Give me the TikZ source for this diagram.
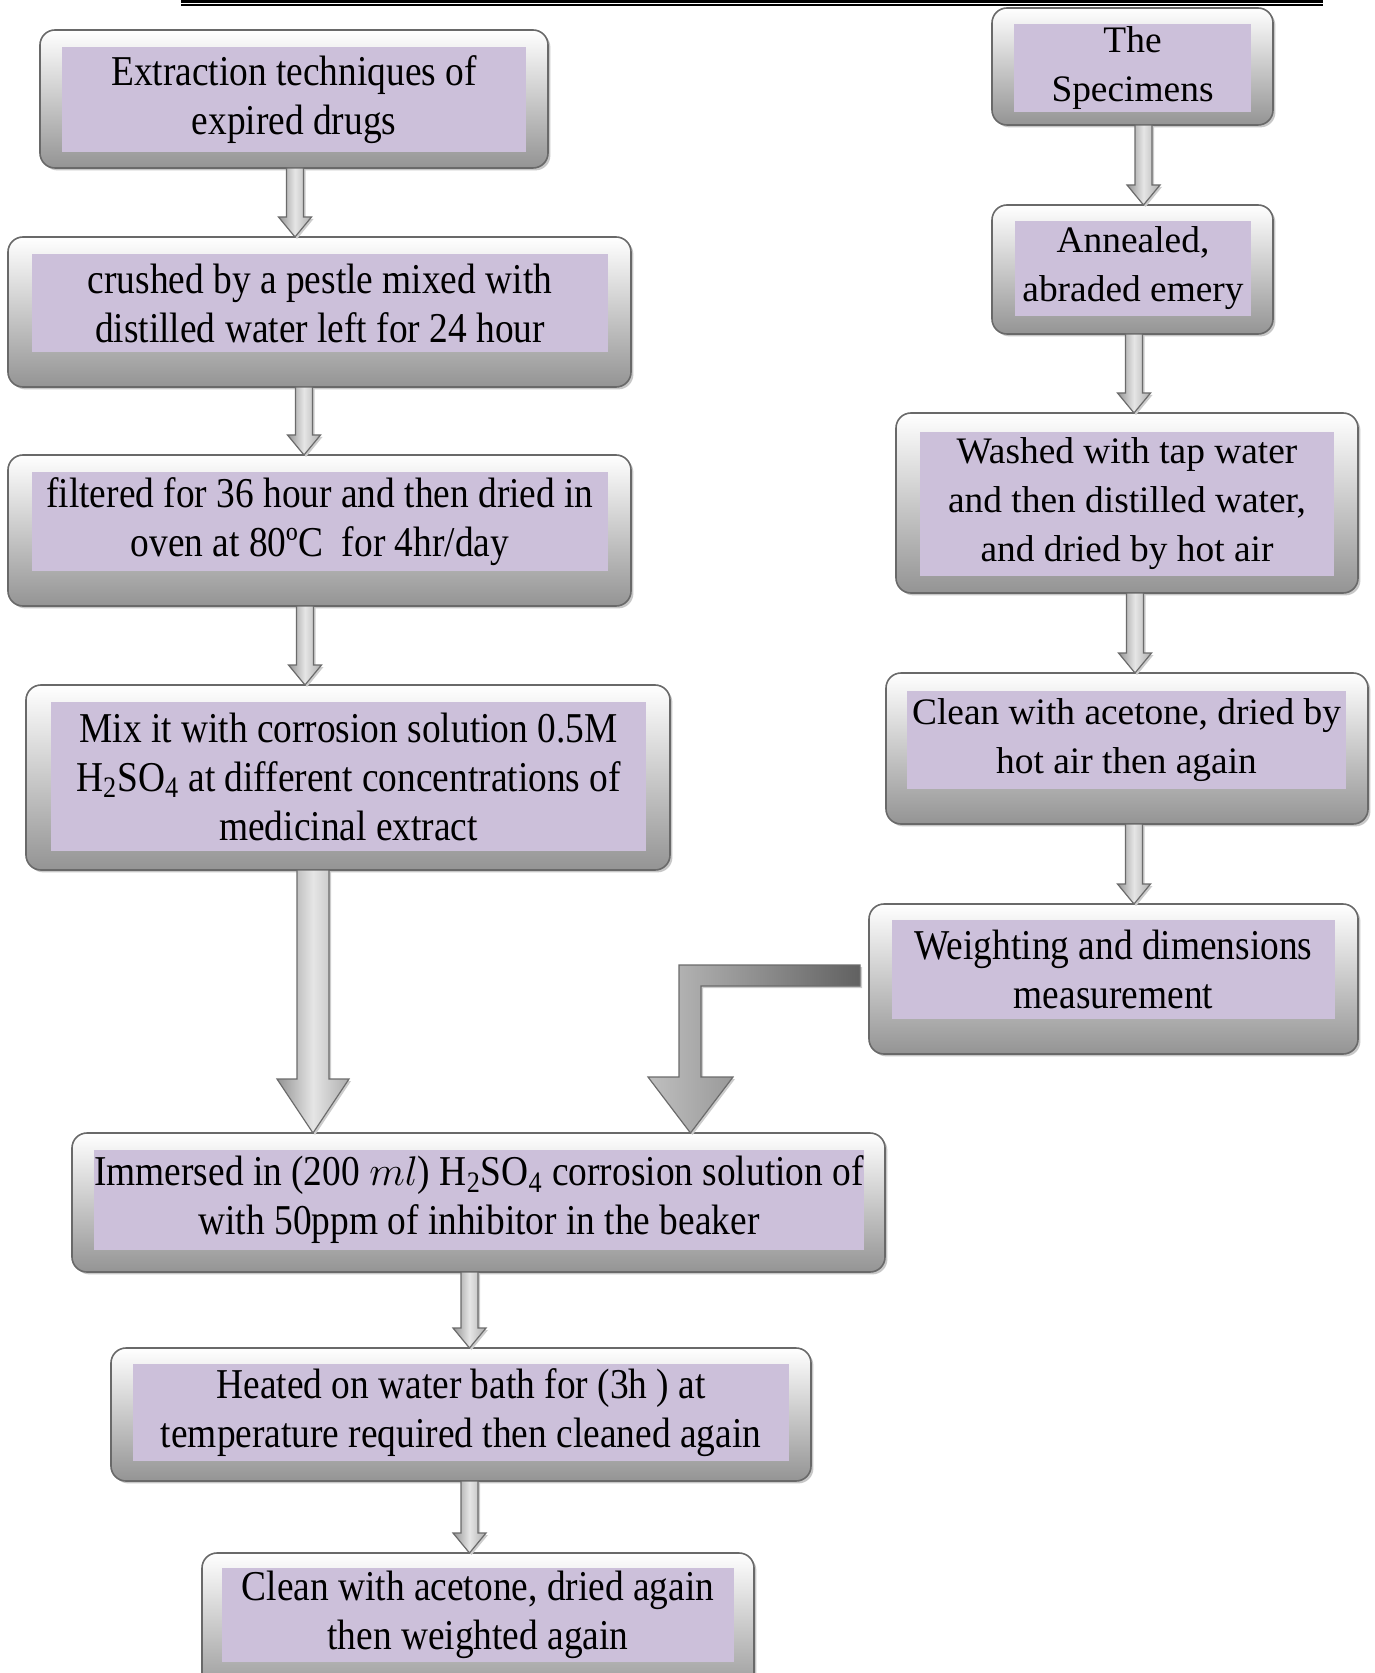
\documentclass[tikz,border=0pt]{standalone}
\usepackage{fontspec}
\setmainfont{Liberation Serif}
\newfontfamily\narrowfont{Liberation Serif}[FakeStretch=0.88]
\usetikzlibrary{calc,shadows}
\definecolor{boxpurple}{RGB}{204,192,218}
\definecolor{framegray}{RGB}{105,105,105}

% straight block arrow: style, x, from, to, shaft half width, head half width, head length
\newcommand\blockarrow[7]{%
  \draw[#1] (#2-#5,0 |- #3.south)
    -- ($(#2-#5,0 |- #4.north)+(0,-#7)$) -- ($(#2-#6,0 |- #4.north)+(0,-#7)$)
    -- (#2,0 |- #4.north)
    -- ($(#2+#6,0 |- #4.north)+(0,-#7)$) -- ($(#2+#5,0 |- #4.north)+(0,-#7)$)
    -- (#2+#5,0 |- #3.south) -- cycle;}

\begin{document}
\begin{tikzpicture}[x=0.5pt, y=-0.5pt,
		spans/.style n args={4}{at={({(#1+#3)/2},{(#2+#4)/2})},
			minimum width={(#3-#1)*0.5pt}, minimum height={(#4-#2)*0.5pt}},
		frame/.style={rounded corners=7.5pt, draw=framegray, line width=0.8pt,
			top color=white, bottom color=black!42, inner sep=0pt, outer sep=0pt,
			drop shadow={shadow xshift=1.2pt, shadow yshift=-1.2pt, fill=black!22, opacity=1}},
		stepbox/.style={fill=boxpurple, inner sep=0pt, outer sep=0pt, align=center,
			font=\narrowfont\fontsize{21.25}{24.5}\selectfont},
		widebox/.style={stepbox, font=\rmfamily\fontsize{18.7}{24.5}\selectfont},
		flowarrow/.style={draw=black!58, line width=0.6pt,
			left color=black!42, right color=black!32, middle color=black!10,
			drop shadow={shadow xshift=1pt, shadow yshift=-1pt, fill=black!20, opacity=1}},
		bendarrow/.style={flowarrow, left color=black!25, right color=black!62}
		]
	\path[use as bounding box, clip] (0,0) rectangle (1374,1673);
	\draw[line width=1.5pt] (181,1.5) -- (1323,1.5);
	\draw[line width=0.75pt] (181,5.2) -- (1323,5.2);

	% left column
	\node [frame, spans={40}{30}{548}{168}] (extF) {};
	\node [stepbox, spans={62}{47}{526}{152}] (ext) {Extraction techniques of\\expired drugs};
	\node [frame, spans={8}{237}{631}{387}] (crushF) {};
	\node [stepbox, spans={32}{254}{608}{352}] (crush) {crushed by a pestle mixed with\\distilled water left for 24 hour};
	\node [frame, spans={8}{455}{631}{606}] (filtF) {};
	\node [stepbox, spans={32}{472}{608}{571}] (filt) {filtered for 36 hour and then dried in\\oven at 80ºC~ for 4hr/day};
	\node [frame, spans={26}{685}{670}{870}] (mixF) {};
	\node [stepbox, spans={51}{702}{646}{851}] (mix) {Mix it with corrosion solution 0.5M\\H\textsubscript{2}SO\textsubscript{4} at different concentrations of\\medicinal extract};
	\node [frame, spans={72}{1133}{885}{1272}] (immF) {};
	\node [stepbox, spans={96}{1150}{862}{1250}] (imm) {Immersed in (200 $ml$) H\textsubscript{2}SO\textsubscript{4} corrosion solution of\\with 50ppm of inhibitor in the beaker};
	\node [frame, spans={111}{1348}{811}{1481}] (heatF) {};
	\node [stepbox, spans={133}{1364}{789}{1461}] (heat) {Heated on water bath for (3h ) at\\temperature required then cleaned again};
	\node [frame, spans={202}{1553}{754}{1700}] (cleanF) {};
	\node [stepbox, spans={222}{1568}{734}{1662}] (clean) {Clean with acetone, dried again\\then weighted again};

	% right column
	\node [frame, spans={992}{8}{1273}{125}] (specF) {};
	\node [widebox, spans={1014}{24}{1251}{112}] (spec) {The\\Specimens};
	\node [frame, spans={992}{205}{1273}{334}] (annealF) {};
	\node [widebox, spans={1015}{221}{1251}{316}] (anneal) {Annealed,\\abraded emery};
	\node [frame, spans={896}{413}{1358}{593}] (washF) {};
	\node [widebox, spans={920}{432}{1334}{576}] (wash) {Washed with tap water\\and then distilled water,\\and dried by hot air};
	\node [frame, spans={886}{673}{1368}{824}] (acetF) {};
	\node [widebox, spans={907}{691}{1346}{789}] (acet) {Clean with acetone, dried by\\hot air then again};
	\node [frame, spans={869}{904}{1358}{1054}] (weighF) {};
	\node [stepbox, spans={892}{920}{1335}{1019}] (weigh) {Weighting and dimensions\\measurement};

	% arrows
	\blockarrow{flowarrow}{295}{extF}{crushF}{8.5}{16.5}{20}
	\blockarrow{flowarrow}{304}{crushF}{filtF}{8.5}{16.5}{20}
	\blockarrow{flowarrow}{305}{filtF}{mixF}{8.5}{16.5}{20}
	\blockarrow{flowarrow}{313}{mixF}{immF}{16}{36}{54}
	\blockarrow{flowarrow}{469.5}{immF}{heatF}{8.5}{16.5}{20}
	\blockarrow{flowarrow}{469.5}{heatF}{cleanF}{8.5}{16.5}{20}
	\blockarrow{flowarrow}{1143.5}{specF}{annealF}{8.5}{16.5}{20}
	\blockarrow{flowarrow}{1134}{annealF}{washF}{8.5}{16.5}{20}
	\blockarrow{flowarrow}{1135}{washF}{acetF}{8.5}{16.5}{20}
	\blockarrow{flowarrow}{1134}{acetF}{weighF}{8.5}{16.5}{20}
	\draw[bendarrow] ($(weighF.west |- 0,965)+(-9,0)$) -- (679,965) -- (679,1077) -- (648,1077)
		-- (immF.north -| 690.5,0) -- (733,1077) -- (701,1077) -- (701,986)
		-- ($(weighF.west |- 0,986)+(-9,0)$) -- cycle;
\end{tikzpicture}
\end{document}
